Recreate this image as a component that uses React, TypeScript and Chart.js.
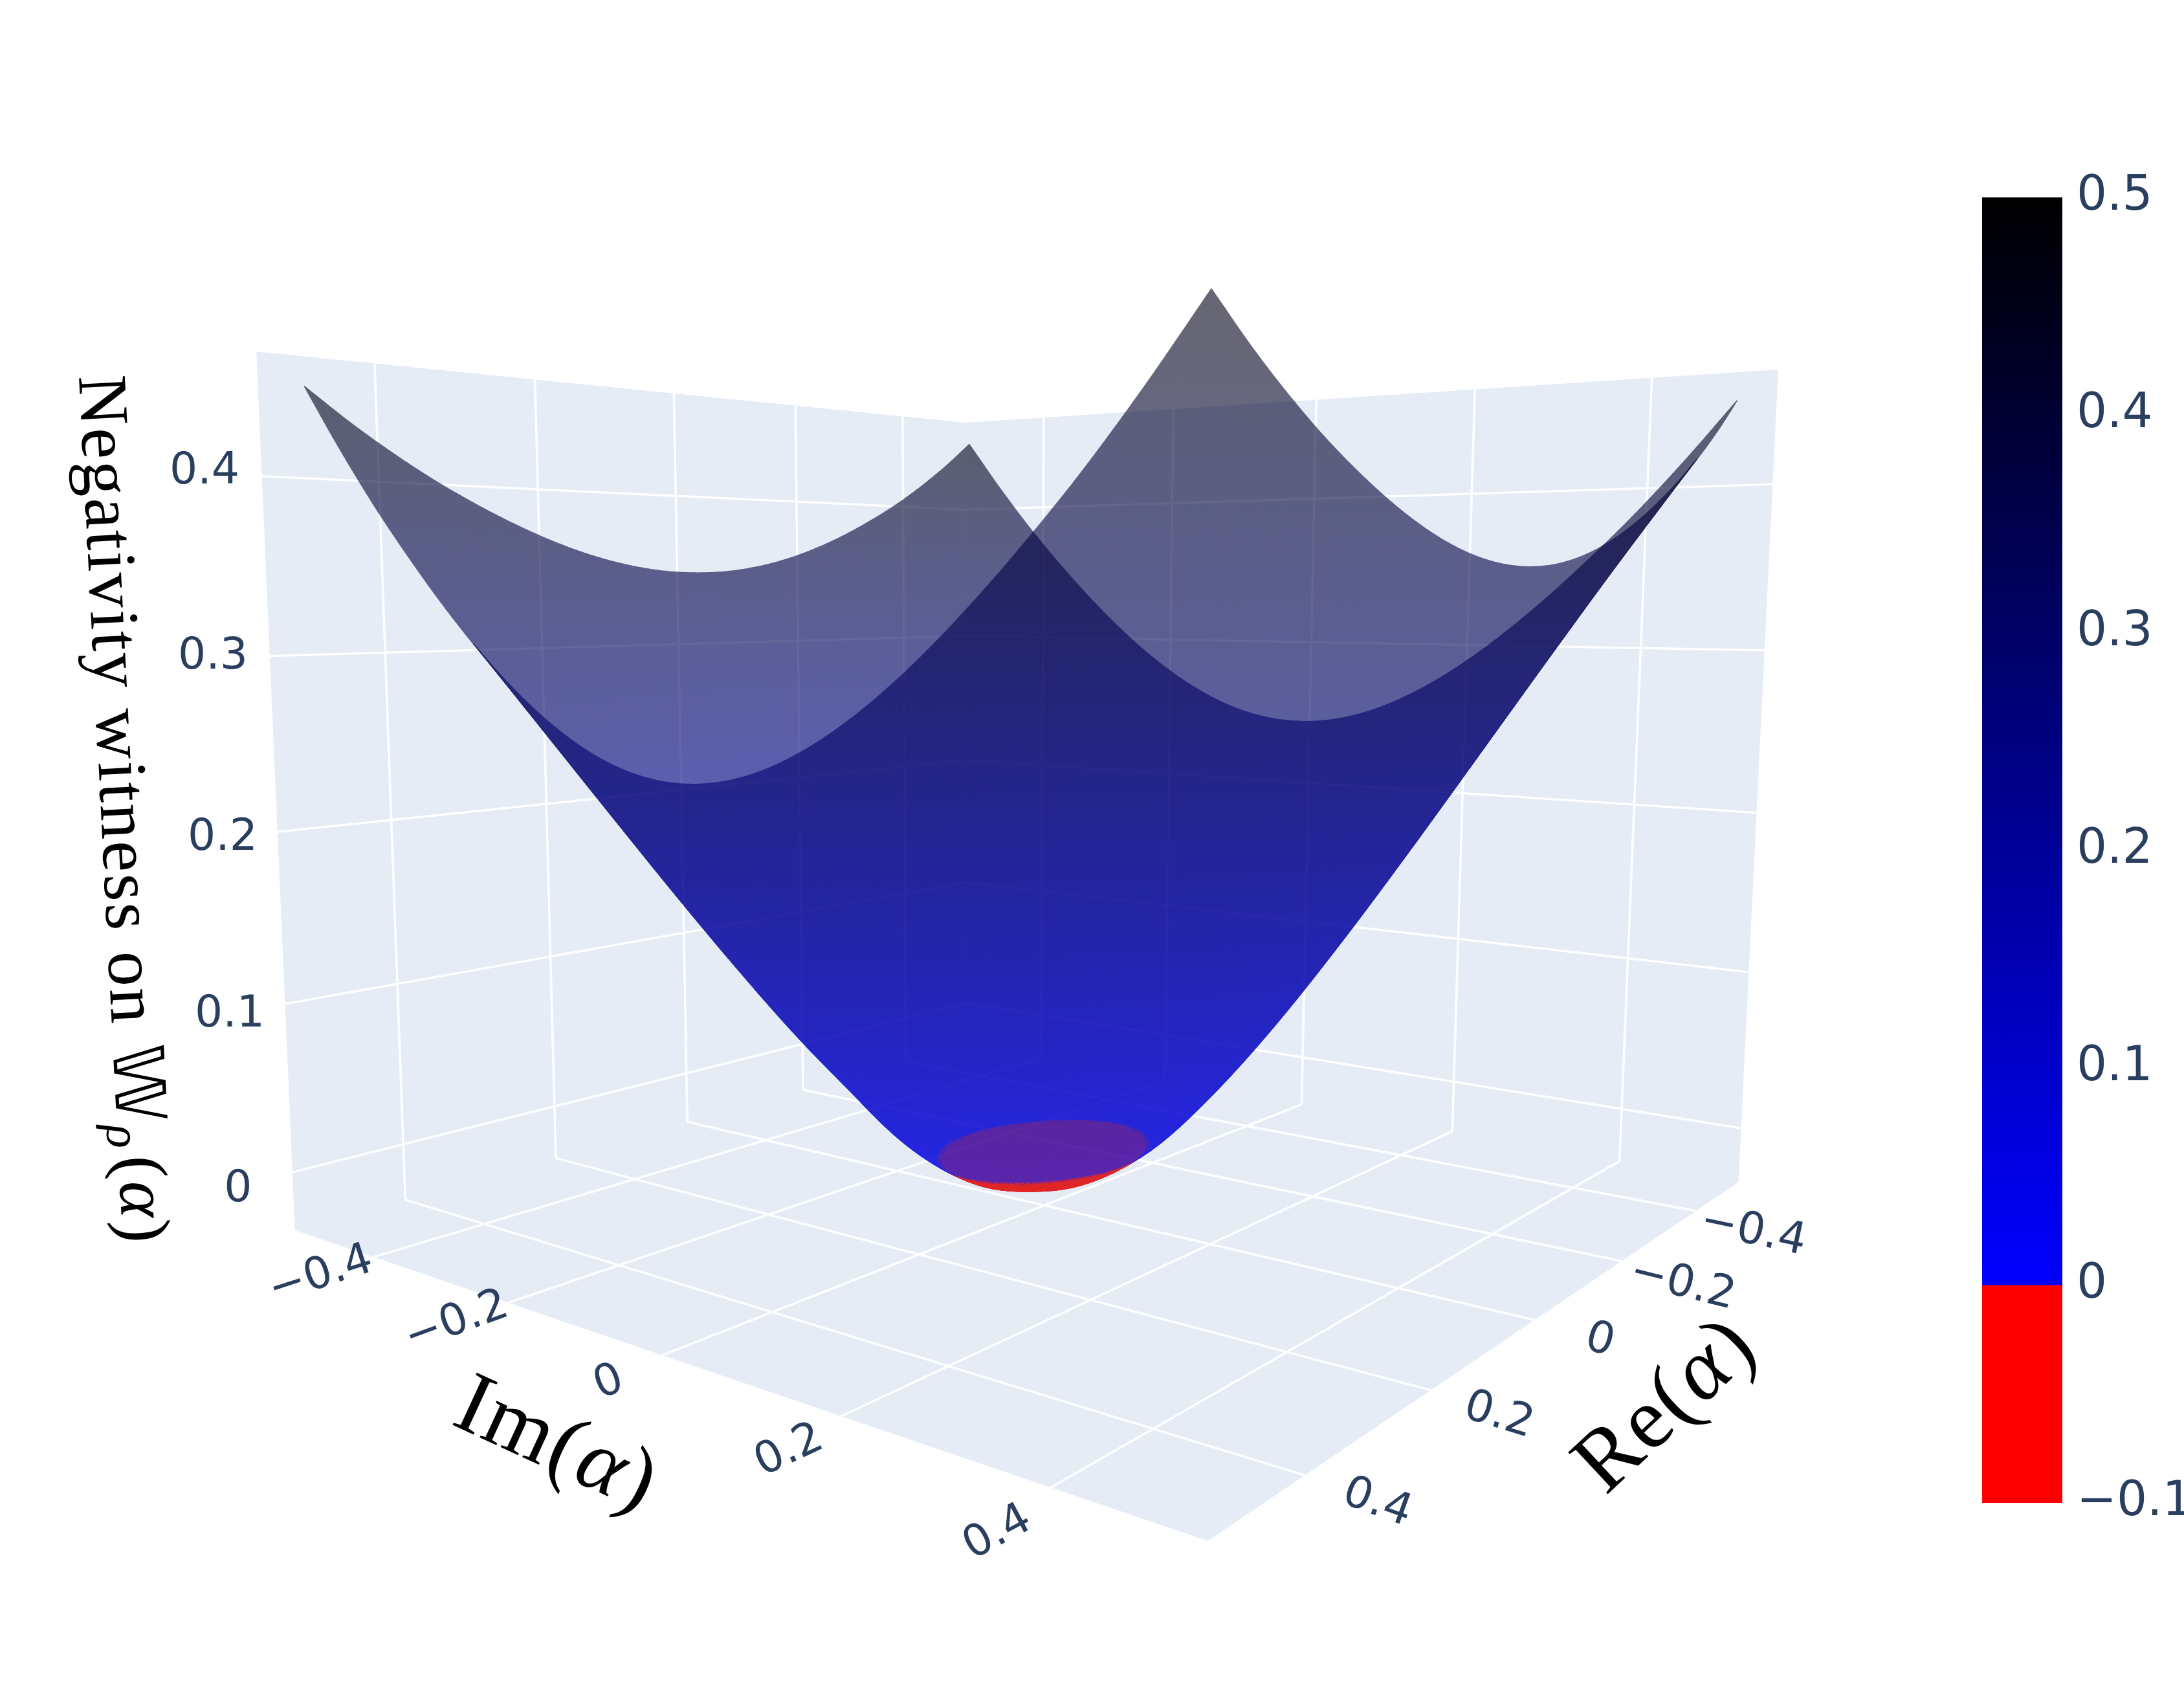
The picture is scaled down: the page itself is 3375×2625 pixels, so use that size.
import React, { useEffect, useRef } from "react";
import { Chart, registerables } from "chart.js";
Chart.register(...registerables);

const W = 3375, H = 2625;
const tickValues = [-0.4, -0.2, 0, 0.2, 0.4];
const zTicks = [0, 0.1, 0.2, 0.3, 0.4];
const colorbarTicks = [-0.1, 0, 0.1, 0.2, 0.3, 0.4, 0.5];
const box = 0.53, zFloor = -0.035, zTop = 0.468;
const gridStep = 0.05;
// witness value for |Re| = row*0.05, |Im| = col*0.05 (the surface mirrors it in both axes)
const witnessQuadrant = [
  [-0.021, -0.016, 0.0013, 0.0298, 0.0656, 0.1065, 0.1509, 0.198, 0.2468, 0.297, 0.3482],
  [-0.0175, -0.0125, 0.0045, 0.0332, 0.0686, 0.1091, 0.1532, 0.2, 0.2484, 0.2984, 0.3493],
  [-0.0095, -0.003, 0.015, 0.0431, 0.0773, 0.1167, 0.1598, 0.2056, 0.2533, 0.3025, 0.3527],
  [0.008, 0.014, 0.031, 0.0589, 0.0914, 0.1291, 0.1706, 0.2149, 0.2614, 0.3093, 0.3583],
  [0.036, 0.0412, 0.0562, 0.0797, 0.1101, 0.1457, 0.1852, 0.2277, 0.2723, 0.3185, 0.366],
  [0.0649, 0.0696, 0.0832, 0.1047, 0.1328, 0.166, 0.2032, 0.2434, 0.2859, 0.3301, 0.3756],
  [0.097, 0.1012, 0.1135, 0.1331, 0.1588, 0.1895, 0.2241, 0.2618, 0.3018, 0.3437, 0.3869],
  [0.1316, 0.1354, 0.1464, 0.164, 0.1874, 0.2156, 0.2476, 0.2826, 0.32, 0.3591, 0.3997],
  [0.1681, 0.1714, 0.1813, 0.1971, 0.2182, 0.2438, 0.2731, 0.3053, 0.3398, 0.3761, 0.4144],
  [0.206, 0.2089, 0.2176, 0.2318, 0.2507, 0.2738, 0.3003, 0.3297, 0.3612, 0.3955, 0.4309],
  [0.2449, 0.2475, 0.2552, 0.2678, 0.2846, 0.3052, 0.329, 0.3554, 0.384, 0.4155, 0.4494],
];

// camera: world (Re, Im, z) -> picture position, in thousands of pixels
const camera = [-1.49717, 0.7292, -0.15506, 1.61441, -0.33638, -0.27098, -2.66031, 1.77588, -0.37016, -0.29738, -0.10278];
const b = box, zf = zFloor, zt = zTop, cam = camera;
function project(re: number, im: number, z: number) {
  const w = cam[8] * re + cam[9] * im + cam[10] * z + 1;
  return {
    x: (1000 * (cam[0] * re + cam[1] * im + cam[2] * z + cam[3])) / w,
    y: (1000 * (cam[4] * re + cam[5] * im + cam[6] * z + cam[7])) / w,
  };
}

const gridN = 2 * (witnessQuadrant.length - 1);
const half = gridN / 2;
function gridZ(i: number, j: number) {
  return witnessQuadrant[Math.abs(i - half)][Math.abs(j - half)];
}
function zAt(i: number, j: number) {
  const ip = Math.max(0, Math.min(gridN, i)), jp = Math.max(0, Math.min(gridN, j));
  const base = gridZ(ip, jp);
  let out = base;
  if (i !== ip) out += base - gridZ(ip + (i > ip ? -1 : 1), jp);
  if (j !== jp) out += base - gridZ(ip, jp + (j > jp ? -1 : 1));
  return out;
}
function cr(p0: number, p1: number, p2: number, p3: number, t: number) {
  return 0.5 * (2 * p1 + (p2 - p0) * t + (2 * p0 - 5 * p1 + 4 * p2 - p3) * t * t + (3 * p1 - p0 - 3 * p2 + p3) * t * t * t);
}
function smoothZ(u: number, v: number) {
  const i = Math.min(Math.floor(u), gridN - 1), j = Math.min(Math.floor(v), gridN - 1);
  const s = u - i, t = v - j;
  const col = [-1, 0, 1, 2].map((d) =>
    cr(zAt(i + d, j - 1), zAt(i + d, j), zAt(i + d, j + 1), zAt(i + d, j + 2), t)
  );
  return cr(col[0], col[1], col[2], col[3], s);
}
const RED = "rgb(224,0,0)";
function blueFor(z: number) {
  const t = Math.max(0, Math.min(1, z / 0.5));
  return `rgb(0,0,${Math.round(224 * (1 - t))})`;
}

const tickColor = "#2a3f5f";
const tickFont = '68px "DejaVu Sans"';
const imLabels = [
  ["\u22120.4", 496, 1971, -18], ["\u22120.2", 706, 2043, -20], ["0", 941, 2137, -21], ["0.2", 1220, 2242, -25], ["0.4", 1542, 2369, -28],
];
const reLabels = [
  ["\u22120.4", 2709, 1904, 12], ["\u22120.2", 2600, 1985, 14], ["0", 2472, 2072, 16], ["0.2", 2316, 2188, 17], ["0.4", 2128, 2323, 20],
];
const zLabels = [["0", 368, 1838], ["0.1", 355, 1568], ["0.2", 344, 1295], ["0.3", 329, 1015], ["0.4", 316, 729]];
const serif = '"Liberation Serif"';

function drawRuns(ctx: any, cx: number, cy: number, deg: number, runs: any[], spacing = 0) {
  ctx.save();
  ctx.translate(cx, cy);
  ctx.rotate((deg * Math.PI) / 180);
  ctx.fillStyle = "#000";
  ctx.textBaseline = "alphabetic";
  ctx.textAlign = "left";
  ctx.letterSpacing = `${spacing}px`;
  let total = 0;
  for (const r of runs) { ctx.font = r.font; total += ctx.measureText(r.text).width + (r.gap || 0); }
  let x = -total / 2;
  for (const r of runs) {
    ctx.font = r.font;
    ctx.fillText(r.text, x, r.dy || 0);
    x += ctx.measureText(r.text).width + (r.gap || 0);
  }
  ctx.restore();
}

const scene = {
  id: "scene3d",
  beforeDatasetsDraw(chart: any) {
    const ctx = chart.ctx;
    chart.data.datasets.forEach((d: any, i: number) => {
      if (!d.wall) return;
      const pts = chart.getDatasetMeta(i).data;
      ctx.beginPath();
      pts.forEach((p: any, k: number) => (k ? ctx.lineTo(p.x, p.y) : ctx.moveTo(p.x, p.y)));
      ctx.closePath();
      ctx.fillStyle = d.wall;
      ctx.fill();
    });
  },
  afterDatasetsDraw(chart: any) {
    const ctx = chart.ctx;
    const sx = chart.scales.x, sy = chart.scales.y;
    const SUB = 12, N = gridN * SUB, M = N + 1;
    const vx = new Float64Array(M * M), vy = new Float64Array(M * M), vz = new Float64Array(M * M);
    for (let a = 0; a <= N; a++) for (let c = 0; c <= N; c++) {
      const u = a / SUB, v = c / SUB;
      const z = smoothZ(u, v);
      const p = project((u - half) * gridStep, (v - half) * gridStep, z);
      const k = a * M + c;
      vx[k] = sx.getPixelForValue(p.x); vy[k] = sy.getPixelForValue(p.y); vz[k] = z;
    }
    const layers = [document.createElement("canvas"), document.createElement("canvas")];
    const lc = layers.map((c) => { c.width = chart.width; c.height = chart.height; const g = c.getContext("2d")!; g.lineWidth = 1.5; g.lineJoin = "round"; return g; });
    const area = (q: number[]) => {
      let s = 0;
      for (let n = 0; n < 4; n++) { const p = q[n], r = q[(n + 1) % 4]; s += vx[p] * vy[r] - vx[r] * vy[p]; }
      return s;
    };
    const farK = SUB * 2 * M + SUB * 2;
    const farSign = Math.sign(area([farK, farK + M, farK + M + 1, farK + 1]));
    for (let a = 0; a < N; a++) for (let c = 0; c < N; c++) {
      const k1 = a * M + c;
      const q = [k1, k1 + M, k1 + M + 1, k1 + 1];
      const g = lc[Math.sign(area(q)) === farSign ? 0 : 1];
      const avg = (vz[q[0]] + vz[q[1]] + vz[q[2]] + vz[q[3]]) / 4;
      const neg = q.filter((k) => vz[k] < 0).length;
      const col = neg === 4 ? RED : blueFor(avg);
      g.fillStyle = col; g.strokeStyle = col;
      g.beginPath();
      q.forEach((k, n) => (n ? g.lineTo(vx[k], vy[k]) : g.moveTo(vx[k], vy[k])));
      g.closePath(); g.fill(); g.stroke();
      if (neg > 0 && neg < 4) {
        g.fillStyle = RED; g.beginPath();
        let started = false;
        const put = (x: number, y: number) => { if (started) g.lineTo(x, y); else { g.moveTo(x, y); started = true; } };
        for (let n = 0; n < 4; n++) {
          const p = q[n], r = q[(n + 1) % 4];
          if (vz[p] < 0) put(vx[p], vy[p]);
          if (vz[p] < 0 !== vz[r] < 0) {
            const t = vz[p] / (vz[p] - vz[r]);
            put(vx[p] + t * (vx[r] - vx[p]), vy[p] + t * (vy[r] - vy[p]));
          }
        }
        g.closePath(); g.fill();
      }
    }
    ctx.save();
    ctx.globalAlpha = 0.6;
    ctx.drawImage(layers[0], 0, 0);
    ctx.drawImage(layers[1], 0, 0);
    ctx.restore();

    ctx.save();
    ctx.fillStyle = tickColor; ctx.font = tickFont; ctx.textAlign = "center"; ctx.textBaseline = "middle";
    for (const [t, x, y, deg] of [...imLabels, ...reLabels] as any[]) {
      ctx.save(); ctx.translate(x, y); ctx.rotate((deg * Math.PI) / 180); ctx.fillText(t, 0, 0); ctx.restore();
    }
    for (const [t, x, y] of zLabels as any[]) ctx.fillText(t, x, y);
    ctx.restore();

    const m = `108px ${serif}`, it = `italic 108px ${serif}`;
    drawRuns(ctx, 156, 1253, 87.1, [
      { text: "Negativity witness on ", font: m },
      { text: "\u{1D54E}", font: '108px "DejaVu Sans"' },
      { text: "\u03C1", font: `italic 76px ${serif}`, dy: 16, gap: 10 },
      { text: "(", font: m }, { text: "\u03B1", font: it }, { text: ")", font: m },
    ], 3);
    const t = `136px ${serif}`, ti = `italic 136px ${serif}`;
    drawRuns(ctx, 844, 2268, 24.7, [{ text: "Im(", font: t }, { text: "\u03B1", font: ti }, { text: ")", font: t }], 3);
    drawRuns(ctx, 2601, 2200, -43, [{ text: "Re(", font: t }, { text: "\u03B1", font: ti }, { text: ")", font: t }], 3);
  },
};

export default function App() {
  const mainRef = useRef<HTMLCanvasElement>(null);
  const barRef = useRef<HTMLCanvasElement>(null);
  useEffect(() => {
    const wall = (pts: number[][]) => ({ data: pts.map(([a, c, z]) => project(a, c, z)), wall: "#E5ECF6", showLine: false, pointRadius: 0 });
    const line = (p: number[], q: number[]) => ({ data: [project(p[0], p[1], p[2]), project(q[0], q[1], q[2])], showLine: true, borderColor: "#ffffff", borderWidth: 3.5, pointRadius: 0, fill: false });
    const datasets: any[] = [
      wall([[b, -b, zf], [b, b, zf], [-b, b, zf], [-b, -b, zf]]),
      wall([[b, -b, zf], [b, -b, zt], [-b, -b, zt], [-b, -b, zf]]),
      wall([[-b, b, zf], [-b, b, zt], [-b, -b, zt], [-b, -b, zf]]),
    ];
    for (const t of tickValues) {
      datasets.push(line([t, -b, zf], [t, b, zf]));
      datasets.push(line([b, t, zf], [-b, t, zf]));
      datasets.push(line([t, -b, zf], [t, -b, zt]));
      datasets.push(line([-b, t, zf], [-b, t, zt]));
    }
    for (const z of zTicks) {
      datasets.push(line([b, -b, z], [-b, -b, z]));
      datasets.push(line([-b, -b, z], [-b, b, z]));
    }
    const surfacePts: any[] = [];
    for (let i = 0; i <= gridN; i++) for (let j = 0; j <= gridN; j++) surfacePts.push(project((i - half) * gridStep, (j - half) * gridStep, gridZ(i, j)));
    datasets.push({ label: "surface", data: surfacePts, showLine: false, pointRadius: 0 });

    const main = new Chart(mainRef.current!, {
      type: "scatter",
      data: { datasets },
      options: {
        animation: false, responsive: false, layout: { padding: 0 },
        plugins: { legend: { display: false }, tooltip: { enabled: false } },
        scales: {
          x: { type: "linear", display: false, min: 0, max: W },
          y: { type: "linear", display: false, min: 0, max: H, reverse: true },
        },
      } as any,
      plugins: [scene as any],
    });

    const bar = new Chart(barRef.current!, {
      type: "bar",
      data: {
        labels: ["colorbar"],
        datasets: [
          { data: [[-0.1, 0]], backgroundColor: "#ff0000", grouped: false, barPercentage: 1, categoryPercentage: 1 },
          {
            data: [[0, 0.5]], grouped: false, barPercentage: 1, categoryPercentage: 1,
            backgroundColor: (c: any) => {
              const y = c.chart.scales.y;
              const p0 = y ? y.getPixelForValue(0) : NaN, p1 = y ? y.getPixelForValue(0.5) : NaN;
              if (!Number.isFinite(p0) || !Number.isFinite(p1)) return "#0000ff";
              const g = c.chart.ctx.createLinearGradient(0, p0, 0, p1);
              g.addColorStop(0, "#0000ff"); g.addColorStop(1, "#000000");
              return g;
            },
          },
        ] as any,
      },
      options: {
        animation: false, responsive: false,
        layout: { padding: { top: 90, bottom: 90, left: 0, right: 0 } },
        plugins: { legend: { display: false }, tooltip: { enabled: false } },
        scales: {
          x: { display: false },
          y: {
            position: "right", min: -0.1, max: 0.5,
            afterFit: (s: any) => { s.width = 220; },
            afterBuildTicks: (s: any) => { s.ticks = colorbarTicks.map((value) => ({ value })); },
            grid: { display: false, drawTicks: false }, border: { display: false },
            ticks: {
              color: tickColor, padding: 22, autoSkip: false, font: { family: "DejaVu Sans", size: 74 },
              callback: (v: any) => String(v).replace("-", "\u2212"),
            },
          },
        },
      } as any,
    });
    return () => { main.destroy(); bar.destroy(); };
  }, []);
  return (
    <div style={{ position: "absolute", left: 0, top: 0, width: W, height: H, overflow: "hidden", background: "#fff" }}>
      <canvas ref={mainRef} width={W} height={H} style={{ position: "absolute", left: 0, top: 0 }} />
      <canvas ref={barRef} width={344} height={2197} style={{ position: "absolute", left: 3063, top: 215 }} />
    </div>
  );
}
